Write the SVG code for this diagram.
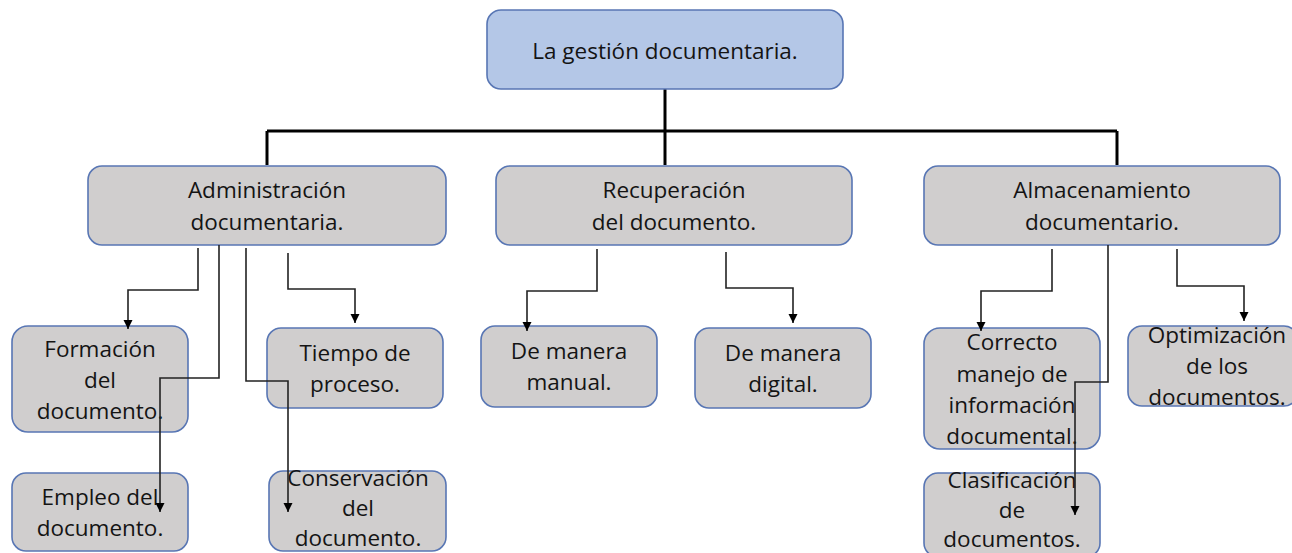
<svg xmlns="http://www.w3.org/2000/svg" width="1292" height="553" viewBox="0 0 1292 553">
<style>
.top{fill:#B4C7E7;stroke:#5876B4;stroke-width:1.6}
.box{fill:#D0CECE;stroke:#5876B4;stroke-width:1.6}
text{font-family:"Open Sans","Liberation Sans",sans-serif;font-size:22.5px;fill:#141414;text-anchor:middle}
.main{fill:none;stroke:#000;stroke-width:3}
.con{fill:none;stroke:#222;stroke-width:1.6}
</style>
<defs>
<marker id="arr" markerUnits="userSpaceOnUse" markerWidth="10" markerHeight="10" refX="9" refY="5" orient="auto">
<path d="M0,0.5 L9,5 L0,9.5 z" fill="#000"/>
</marker>
</defs>
<g id="connectors-main">
<path class="main" d="M665,89 V165"/>
<path class="main" d="M267,131 H1117"/>
<path class="main" d="M267,131 V165"/>
<path class="main" d="M1117,131 V165"/>
</g>
<g id="n-root"><rect class="top" x="487" y="10" width="356" height="79" rx="14"/><text x="665" y="59">La gestión documentaria.</text></g>
<g id="n-admin"><rect class="box" x="88" y="166" width="358" height="79" rx="14"/><text x="267" y="198">Administración</text><text x="267" y="230">documentaria.</text></g>
<g id="n-recup"><rect class="box" x="496" y="166" width="356" height="79" rx="14"/><text x="674" y="198">Recuperación</text><text x="674" y="230">del documento.</text></g>
<g id="n-almac"><rect class="box" x="924" y="166" width="356" height="79" rx="14"/><text x="1102" y="198">Almacenamiento</text><text x="1102" y="230">documentario.</text></g>
<g id="n-formacion"><rect class="box" x="12" y="326" width="176" height="106" rx="16"/><text x="100" y="357">Formación</text><text x="100" y="388">del</text><text x="100" y="419">documento.</text></g>
<g id="n-tiempo"><rect class="box" x="267" y="328" width="176" height="80" rx="14"/><text x="355" y="361">Tiempo de</text><text x="355" y="392">proceso.</text></g>
<g id="n-empleo"><rect class="box" x="12" y="473" width="176" height="78" rx="14"/><text x="100" y="505">Empleo del</text><text x="100" y="536">documento.</text></g>
<g id="n-conserv"><rect class="box" x="269" y="471" width="177" height="80" rx="14"/><text x="358" y="486">Conservación</text><text x="358" y="516">del</text><text x="358" y="546">documento.</text></g>
<g id="n-manual"><rect class="box" x="481" y="326" width="176" height="81" rx="14"/><text x="569" y="359">De manera</text><text x="569" y="390">manual.</text></g>
<g id="n-digital"><rect class="box" x="695" y="328" width="176" height="80" rx="14"/><text x="783" y="361">De manera</text><text x="783" y="392">digital.</text></g>
<g id="n-correcto"><rect class="box" x="924" y="328" width="176" height="121" rx="16"/><text x="1012" y="350">Correcto</text><text x="1012" y="382">manejo de</text><text x="1012" y="413">información</text><text x="1012" y="444">documental.</text></g>
<g id="n-clasif"><rect class="box" x="924" y="473" width="176" height="84" rx="14"/><text x="1012" y="488">Clasificación</text><text x="1012" y="518">de</text><text x="1012" y="547">documentos.</text></g>
<g id="n-optim"><rect class="box" x="1128" y="326" width="170" height="80" rx="14"/><text x="1217" y="343">Optimización</text><text x="1217" y="374">de los</text><text x="1217" y="405">documentos.</text></g>
<g id="connectors">
<path class="con" marker-end="url(#arr)" d="M198,248 V290 H128 V329"/>
<path class="con" marker-end="url(#arr)" d="M219,245 V378 H160 V512"/>
<path class="con" marker-end="url(#arr)" d="M246,248 V381 H288 V512"/>
<path class="con" marker-end="url(#arr)" d="M288,253 V289 H355 V323"/>
<path class="con" marker-end="url(#arr)" d="M597,249 V291 H527 V331"/>
<path class="con" marker-end="url(#arr)" d="M726,252 V288 H793 V323"/>
<path class="con" marker-end="url(#arr)" d="M1052,249 V291 H981 V331"/>
<path class="con" marker-end="url(#arr)" d="M1108,245 V382 H1075 V515"/>
<path class="con" marker-end="url(#arr)" d="M1177,249 V286 H1244 V321"/>
</g>
</svg>
